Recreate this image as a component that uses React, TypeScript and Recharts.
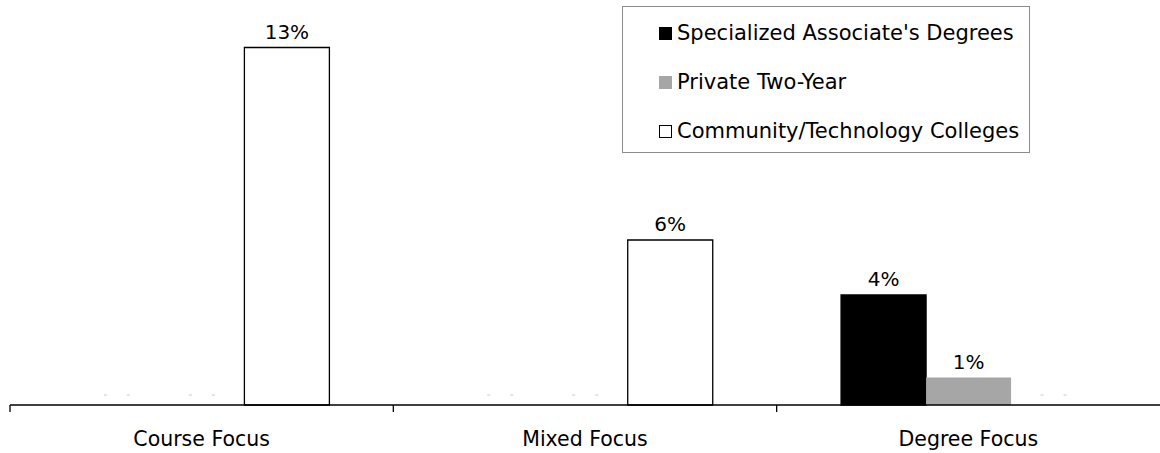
import React from "react";
import { BarChart, Bar, XAxis, YAxis, LabelList, Rectangle } from "recharts";

const categories = ["Course Focus", "Mixed Focus", "Degree Focus"];
const specialized = [0, 0, 4];
const privateTwoYear = [0, 0, 1];
const community = [13, 6, 0];

const seriesInfo = [
  { key: "specialized", name: "Specialized Associate's Degrees", fill: "#000000", stroke: "#000000" },
  { key: "private", name: "Private Two-Year", fill: "#a6a6a6", stroke: "#a6a6a6" },
  { key: "community", name: "Community/Technology Colleges", fill: "#ffffff", stroke: "#000000" },
];

const data = categories.map((c, i) => ({
  category: c,
  specialized: specialized[i],
  private: privateTwoYear[i],
  community: community[i],
}));

const W = 1160;
const H = 453;
const FONT = "'DejaVu Sans', Verdana, sans-serif";
const PLOT_LEFT = 10;
const BAND = (W - PLOT_LEFT) / categories.length;

// Tick marks sit on category boundaries; labels stay centred in each band.
const CategoryTick = (props: any) => {
  const { x, y, payload } = props;
  const bx = x - BAND / 2;
  return (
    <g>
      <line x1={bx} y1={y - 8} x2={bx} y2={y - 1} stroke="#000" strokeWidth={1.3} />
      <text x={x} y={y + 33} textAnchor="middle" fontSize={20.5} fontFamily={FONT} fill="#000">
        {payload.value}
      </text>
    </g>
  );
};

// Bars draw normally; a zero value shows a faint "- -" marker on the baseline.
const BarShape = (props: any) => {
  const { x, y, width, height, value } = props;
  const v = Array.isArray(value) ? value[1] - value[0] : value;
  if (!v) {
    const cx = x + width / 2;
    const by = y + height - 10;
    return (
      <g>
        <line x1={cx - 13} y1={by} x2={cx - 10} y2={by} stroke="#c8c8c8" strokeWidth={1} />
        <line x1={cx + 10} y1={by} x2={cx + 13} y2={by} stroke="#c8c8c8" strokeWidth={1} />
      </g>
    );
  }
  return <Rectangle {...props} />;
};

const ValueLabel = (props: any) => {
  const { x, y, width, value } = props;
  if (!value) return null;
  return (
    <text x={x + width / 2} y={y - 9} textAnchor="middle" fontSize={20} fontFamily={FONT} fill="#000">
      {`${value}%`}
    </text>
  );
};

const LegendBox = () => (
  <div
    style={{
      position: "absolute",
      left: 622,
      top: 6,
      width: 408,
      height: 147,
      border: "1px solid #8c8c8c",
      background: "#fff",
      boxSizing: "border-box",
      fontFamily: FONT,
      fontSize: 21,
    }}
  >
    {seriesInfo.map((s, i) => (
      <div
        key={s.key}
        style={{ position: "absolute", left: 36, top: 13 + i * 49, height: 26, display: "flex", alignItems: "center" }}
      >
        <span
          style={{
            display: "inline-block",
            width: 13,
            height: 13,
            background: s.fill,
            border: `1px solid ${s.stroke}`,
            boxSizing: "border-box",
            marginRight: 5,
          }}
        />
        <span style={{ color: "#000", whiteSpace: "nowrap" }}>{s.name}</span>
      </div>
    ))}
  </div>
);

export default function App() {
  return (
    <div style={{ position: "absolute", left: 0, top: 0, width: W, height: H, background: "#fff" }}>
      <BarChart
        width={W}
        height={H}
        data={data}
        margin={{ top: 20, right: 0, bottom: 0, left: PLOT_LEFT }}
        barCategoryGap="16.8%"
        barGap={0}
      >
        <XAxis
          dataKey="category"
          height={48}
          axisLine={{ stroke: "#000", strokeWidth: 1.5 }}
          tickLine={false}
          tick={<CategoryTick />}
          interval={0}
        />
        <YAxis hide domain={[0, 14]} />
        {seriesInfo.map((s) => (
          <Bar
            key={s.key}
            dataKey={s.key}
            name={s.name}
            fill={s.fill}
            stroke={s.stroke}
            strokeWidth={s.key === "private" ? 0 : 1.3}
            shape={<BarShape />}
            isAnimationActive={false}
          >
            <LabelList dataKey={s.key} content={<ValueLabel />} />
          </Bar>
        ))}
      </BarChart>
      <LegendBox />
    </div>
  );
}
